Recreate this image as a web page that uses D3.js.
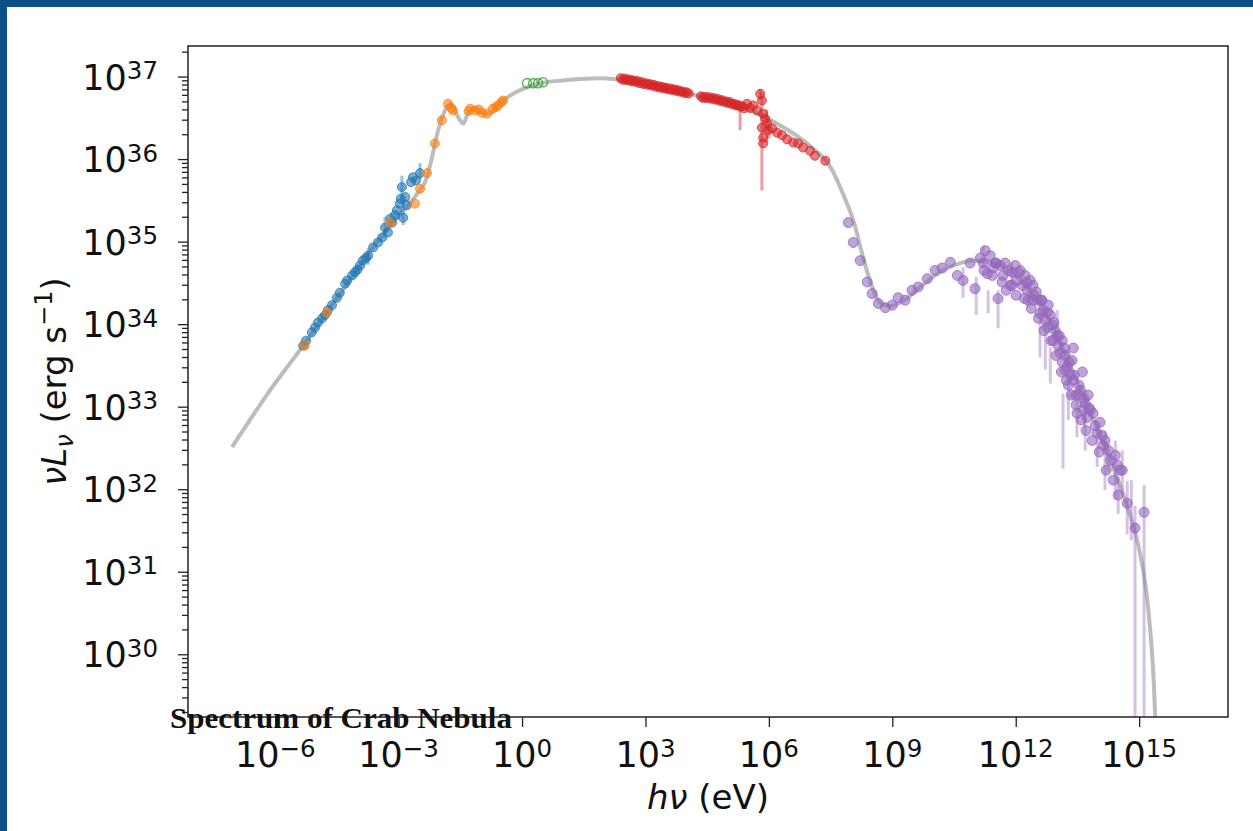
<!DOCTYPE html>
<html>
<head>
<meta charset="utf-8">
<script src="https://cdn.jsdelivr.net/npm/d3@7"></script>
<style>
  body { margin: 0; background: #fff; }
  svg { display: block; }
</style>
</head>
<body>
<div id="chart"></div>
<script>
/*------------------------------
 GLOBAL CONSTANTS
 ----------------------------*/
const SVG_WIDTH = 1253;
const SVG_HEIGHT = 831;
const PLOT = {left: 188, right: 1228, top: 46, bottom: 717};
const FONT = "DejaVu Sans";
const TICK_SIZE = 35;

// all values are log10: [log10(h nu / eV), log10(nu L_nu / erg s^-1)]
const X_TICKS = [-6, -3, 0, 3, 6, 9, 12, 15];
const Y_TICKS = [30, 31, 32, 33, 34, 35, 36, 37];

const modelCurve = [
  [-7.05,32.51],[-6.08,33.23],[-5.32,33.74],[-4.42,34.37],[-3.45,35.04],[-2.97,35.33],
  [-2.55,35.58],[-2.31,35.78],[-2.19,36.02],[-2.04,36.35],[-1.87,36.59],[-1.75,36.67],
  [-1.63,36.58],[-1.51,36.47],[-1.43,36.43],[-1.31,36.56],[-1.14,36.61],[-0.97,36.56],
  [-0.78,36.55],[-0.58,36.65],[-0.46,36.71],[-0.29,36.77],[0.02,36.85],[0.44,36.92],
  [0.92,36.95],[1.41,36.97],[1.90,36.98],[2.38,36.96],[3.11,36.90],[4.08,36.79],
  [4.81,36.71],[5.54,36.59],[6.27,36.41],[7.00,36.16],[7.50,35.90],[7.85,35.52],
  [8.05,35.26],[8.29,34.81],[8.51,34.45],[8.70,34.26],[8.95,34.22],[9.15,34.25],
  [9.35,34.31],[9.68,34.45],[10.16,34.63],[10.65,34.74],[11.01,34.77],[11.38,34.75],
  [11.74,34.68],[12.11,34.53],[12.47,34.32],[12.84,34.02],[13.20,33.65],[13.57,33.22],
  [13.93,32.80],[14.30,32.35],[14.66,31.87],[14.98,31.32],[15.17,30.78],[15.27,30.29],
  [15.34,29.81],[15.39,29.24],[15.41,28.9]
];

const radioData = [
  [-5.32,33.74],[-5.25,33.80],[-5.11,33.90],[-5.03,33.96],[-4.96,34.02],[-4.86,34.07],
  [-4.79,34.11],[-4.72,34.17],[-4.62,34.23],[-4.50,34.32],[-4.43,34.38],[-4.25,34.53],
  [-4.13,34.59],[-4.06,34.63],[-3.94,34.71],[-3.87,34.77],[-3.74,34.83],[-3.62,34.93],
  [-3.50,34.99],[-3.40,35.05],[-3.33,35.17],[-3.26,35.11],[-3.16,35.23],[-3.09,35.32],
  [-3.04,35.38],[-2.97,35.46],[-2.92,35.66],[-2.89,35.29],[-2.84,35.54],[-2.80,35.44],
  [-2.65,35.78],[-2.58,35.74],[-2.48,35.83],[-4.00,34.66],[-3.80,34.80],[-4.30,34.49],
  [-3.20,35.28],[-2.95,35.52],[-2.70,35.72]
];
const radioErr = [
  [-2.92,35.45,35.80],[-3.33,35.05,35.30],[-2.89,35.20,35.42],[-3.74,34.72,34.92],[-2.48,35.75,35.95]
];

const irData = [
  [-5.28,33.74],[-4.74,34.14],[-3.21,35.23],[-2.60,35.46],[-2.48,35.64],[-2.31,35.83],
  [-2.12,36.19],[-1.95,36.47],[-1.80,36.67],[-1.72,36.62],[-1.68,36.59],[-1.30,36.58],
  [-1.26,36.61],[-1.14,36.59],[-1.05,36.60],[-0.97,36.56],[-0.85,36.55],[-0.71,36.61],
  [-0.64,36.63],[-0.58,36.65],[-0.50,36.69],[-0.46,36.71]
];

const opticalData = [[0.12,36.92],[0.27,36.92],[0.39,36.92],[0.51,36.93]];

const xrayData = [
  [2.40,36.98],[2.45,36.96],[2.50,36.975],[2.55,36.955],[2.60,36.965],[2.65,36.945],
  [2.70,36.955],[2.75,36.935],[2.80,36.945],[2.85,36.92],[2.90,36.935],[2.95,36.91],
  [3.00,36.92],[3.05,36.90],[3.10,36.91],[3.15,36.89],[3.20,36.90],[3.25,36.875],
  [3.30,36.885],[3.35,36.865],[3.40,36.875],[3.45,36.855],[3.50,36.865],[3.55,36.845],
  [3.60,36.855],[3.65,36.835],[3.70,36.845],[3.75,36.825],[3.80,36.835],[3.85,36.815],
  [3.90,36.82],[3.95,36.80],[4.00,36.81],[4.05,36.795],
  [4.35,36.76],[4.40,36.74],[4.45,36.755],[4.50,36.735],[4.55,36.75],[4.60,36.73],
  [4.65,36.74],[4.70,36.72],[4.75,36.73],[4.80,36.705],[4.85,36.715],[4.90,36.695],
  [4.95,36.70],[5.00,36.68],[5.05,36.69],[5.10,36.665],[5.15,36.67],[5.20,36.65],
  [5.25,36.655],[5.30,36.635],[5.35,36.64],[5.40,36.615],
  [5.47,36.67],[5.54,36.62],[5.62,36.65],[5.71,36.59],[5.79,36.79],[5.83,36.71],
  [5.86,36.55],[5.91,36.49],[5.83,36.38],[5.86,36.26],[5.96,36.43],[5.98,36.35],
  [5.86,36.19],[6.08,36.37],[6.20,36.32],[6.32,36.29],[6.44,36.24],[6.59,36.20],
  [6.71,36.19],[6.83,36.14],[7.00,36.10],[7.12,36.04],[7.37,35.98]
];
const xrayErr = [
  [5.79,36.72,36.85],[5.83,35.62,36.81],[5.30,36.35,36.59],[5.95,36.20,36.60],[6.00,36.25,36.45]
];

const gammaData = [
  [7.93,35.23],[8.05,34.99],[8.22,34.77],[8.39,34.51],[8.51,34.37],[8.66,34.25],
  [8.83,34.20],[9.00,34.23],[9.14,34.32],[9.31,34.29],[9.48,34.41],[9.63,34.45],
  [9.85,34.55],[10.04,34.65],[10.21,34.68],[10.41,34.75],[10.58,34.59],[10.72,34.53],
  [10.89,34.74],[11.01,34.43],[11.14,34.80],[11.21,34.74],[11.31,34.61],[11.45,34.68],
  [11.57,34.31],[11.69,34.59],[11.82,34.65],[11.91,34.63],[12.03,34.53],[12.16,34.47],
  [12.28,34.41],[12.35,34.53],[12.42,34.29],[12.50,34.39],[12.59,34.13],[12.64,34.29],
  [12.72,34.05],[12.76,33.96],[12.84,34.11],[12.91,33.80],[12.96,33.92],[13.03,33.74],
  [13.08,33.65],[13.13,33.54],[13.20,33.62],[13.25,33.48],[13.32,33.38],[13.40,33.32],
  [13.40,33.71],[13.49,32.92],[13.52,33.14],[13.57,33.20],[13.62,33.42],[13.69,33.04],
  [13.74,32.87],[13.81,32.96],[13.88,32.92],[13.98,32.68],[14.05,32.81],[14.13,32.53],
  [14.17,32.59],[14.30,32.35],[14.42,32.41],[14.54,32.23],[14.49,31.93],[14.59,32.23],
  [14.71,31.83],[14.90,31.53],[15.12,31.72],
  [11.26,34.89],[11.38,34.83],[11.50,34.74],[11.62,34.71],[11.74,34.74],[11.87,34.47],
  [11.99,34.71],[12.11,34.65],[12.23,34.59],[12.30,34.29],[12.42,34.47],[12.55,34.29],
  [12.67,34.17],[12.79,34.23],[12.89,33.99],[13.01,33.86],[13.13,33.80],[13.20,33.44],
  [13.28,33.26],[13.37,33.56],[13.45,33.14],[13.64,32.96],[13.76,33.14],
  [11.23,34.65],[11.43,34.59],[11.52,34.74],[11.67,34.51],[11.77,34.41],[11.91,34.47],
  [12.01,34.35],[12.08,34.62],[12.21,34.31],[12.26,34.51],[12.38,34.19],[12.45,34.35],
  [12.55,34.07],[12.62,34.29],[12.69,33.92],[12.77,34.14],[12.86,33.80],[12.93,34.02],
  [12.98,33.62],[13.06,33.86],[13.11,33.42],[13.18,33.71],[13.23,33.32],[13.30,33.54],
  [13.35,33.14],[13.42,33.38],[13.47,33.02],[13.54,33.26],[13.59,32.84],[13.66,33.10],
  [13.71,32.71],[13.79,32.98],[13.86,32.59],[13.93,32.77],[14.03,32.45],[14.10,32.65],
  [14.20,32.23],[14.25,32.47],[14.37,32.11],[14.47,32.29]
];
const gammaErr = [
  [11.21,34.69,34.95],[11.04,34.11,34.57],[11.33,34.13,34.41],[11.57,33.95,34.41],
  [10.72,34.32,34.69],[12.59,33.60,34.13],[13.01,33.80,34.17],[13.15,32.25,33.16],
  [12.84,33.28,33.72],[13.49,32.63,33.08],[13.67,32.75,33.10],[13.98,32.27,32.75],
  [14.25,32.20,32.55],[14.59,31.95,32.47],[14.71,31.45,32.10],[14.90,28.5,31.80],
  [15.12,28.5,32.05],[14.49,31.70,32.15],[12.30,34.20,34.50],[11.90,34.40,34.75],
  [12.72,33.45,34.05],[13.28,32.84,33.68],[13.69,32.47,33.20],[14.17,31.99,32.71],
  [14.42,31.87,32.59],[14.81,31.38,32.11]
];

/*------------------------------
 FUNCTIONS
-----------------------------*/
const svg = d3.select("#chart").append("svg")
  .attr("width", SVG_WIDTH).attr("height", SVG_HEIGHT);

const xScale = d3.scaleLog().domain([10 ** -8.12, 10 ** 17.16]).range([PLOT.left, PLOT.right]);
const yScale = d3.scaleLog().domain([10 ** 29.24, 10 ** 37.37]).range([PLOT.bottom, PLOT.top]);
const px = d => xScale(10 ** d[0]);
const py = v => yScale(10 ** v);

function powerLabel(sel, exp) {
  sel.append("tspan").text("10");
  sel.append("tspan")
    .attr("dy", "-0.42em")
    .attr("font-size", TICK_SIZE * 0.7)
    .text(String(exp).replace("-", "\u2212"));
}

function drawErr(g, data, color, opacity) {
  g.selectAll(null).data(data).enter().append("line")
    .attr("x1", d => px(d)).attr("x2", d => px(d))
    .attr("y1", d => py(d[1])).attr("y2", d => py(d[2]))
    .attr("stroke", color).attr("stroke-opacity", opacity).attr("stroke-width", 3);
}

function drawPoints(g, data, color, r, filled) {
  g.selectAll(null).data(data).enter().append("circle")
    .attr("cx", d => px(d)).attr("cy", d => py(d[1]))
    .attr("r", r)
    .attr("fill", filled ? color : "none")
    .attr("fill-opacity", 0.6)
    .attr("stroke", color)
    .attr("stroke-opacity", 0.75)
    .attr("stroke-width", filled ? 1 : 1.6);
}

// blue slide frame (top and left)
svg.append("rect").attr("x", 0).attr("y", 0).attr("width", SVG_WIDTH).attr("height", 7).attr("fill", "#0c4f86");
svg.append("rect").attr("x", 0).attr("y", 0).attr("width", 7).attr("height", SVG_HEIGHT).attr("fill", "#0c4f86");

svg.append("clipPath").attr("id", "plot-clip").append("rect")
  .attr("x", PLOT.left).attr("y", PLOT.top)
  .attr("width", PLOT.right - PLOT.left).attr("height", PLOT.bottom - PLOT.top);

const plot = svg.append("g").attr("clip-path", "url(#plot-clip)");

// model curve
plot.append("path")
  .datum(modelCurve)
  .attr("fill", "none")
  .attr("stroke", "#bcbcbc")
  .attr("stroke-width", 4)
  .attr("d", d3.line().x(d => px(d)).y(d => py(d[1])).curve(d3.curveMonotoneX));

drawErr(plot, radioErr, "#1f77b4", 0.45);
drawErr(plot, xrayErr, "#d62728", 0.45);
drawErr(plot, gammaErr, "#9467bd", 0.4);

drawPoints(plot, radioData, "#1f77b4", 4.5, true);
drawPoints(plot, irData, "#ff7f0e", 4.5, true);
drawPoints(plot, opticalData, "#2ca02c", 4.5, false);
drawPoints(plot, xrayData, "#d62728", 4.5, true);
drawPoints(plot, gammaData, "#9467bd", 5, true);

// axes
svg.append("g")
  .attr("transform", `translate(0, ${PLOT.bottom})`)
  .call(d3.axisBottom(xScale).tickValues(X_TICKS.map(k => 10 ** k)).tickFormat("").tickSize(10).tickSizeOuter(0));

const minorY = [];
for (let k = 29; k <= 37; k++) for (let m = 2; m <= 9; m++) {
  const v = m * 10 ** k;
  if (v > yScale.domain()[0] && v < yScale.domain()[1]) minorY.push(v);
}
svg.append("g")
  .attr("transform", `translate(${PLOT.left}, 0)`)
  .call(d3.axisLeft(yScale).tickValues(minorY).tickFormat("").tickSize(6).tickSizeOuter(0));
svg.append("g")
  .attr("transform", `translate(${PLOT.left}, 0)`)
  .call(d3.axisLeft(yScale).tickValues(Y_TICKS.map(k => 10 ** k)).tickFormat("").tickSize(10).tickSizeOuter(0));

svg.selectAll(".tick line").attr("stroke", "#222").attr("stroke-width", 1.3);
svg.selectAll(".domain").remove();

svg.append("rect")
  .attr("x", PLOT.left).attr("y", PLOT.top)
  .attr("width", PLOT.right - PLOT.left).attr("height", PLOT.bottom - PLOT.top)
  .attr("fill", "none").attr("stroke", "#222").attr("stroke-width", 1.5);

// tick labels
X_TICKS.forEach(k => {
  const t = svg.append("text")
    .attr("x", xScale(10 ** k)).attr("y", 767)
    .attr("text-anchor", "middle")
    .attr("font-family", FONT).attr("font-size", TICK_SIZE).attr("fill", "#111");
  powerLabel(t, k);
});
Y_TICKS.forEach(k => {
  const t = svg.append("text")
    .attr("x", 158).attr("y", yScale(10 ** k) + 13)
    .attr("text-anchor", "end")
    .attr("font-family", FONT).attr("font-size", TICK_SIZE).attr("fill", "#111");
  powerLabel(t, k);
});

// axis titles
const xl = svg.append("text")
  .attr("x", (PLOT.left + PLOT.right) / 2).attr("y", 809)
  .attr("text-anchor", "middle")
  .attr("font-family", FONT).attr("font-size", 34).attr("fill", "#111");
xl.append("tspan").attr("font-style", "italic").text("h\u03bd");
xl.append("tspan").text(" (eV)");

const yl = svg.append("text")
  .attr("transform", `translate(66, ${(PLOT.top + PLOT.bottom) / 2}) rotate(-90)`)
  .attr("text-anchor", "middle")
  .attr("font-family", FONT).attr("font-size", 34).attr("fill", "#111");
yl.append("tspan").attr("font-style", "italic").text("\u03bdL");
yl.append("tspan").attr("font-style", "italic").attr("font-size", 24).attr("dy", 7).text("\u03bd");
yl.append("tspan").attr("dy", -7).text(" (erg s");
yl.append("tspan").attr("font-size", 24).attr("dy", -14).text("\u22121");
yl.append("tspan").attr("dy", 14).text(")");

// overlay caption
svg.append("text")
  .attr("x", 170).attr("y", 728)
  .attr("font-family", "Liberation Serif").attr("font-weight", "bold")
  .attr("font-size", 30).attr("fill", "#111")
  .attr("textLength", 342).attr("lengthAdjust", "spacingAndGlyphs")
  .text("Spectrum of Crab Nebula");
</script>
</body>
</html>
